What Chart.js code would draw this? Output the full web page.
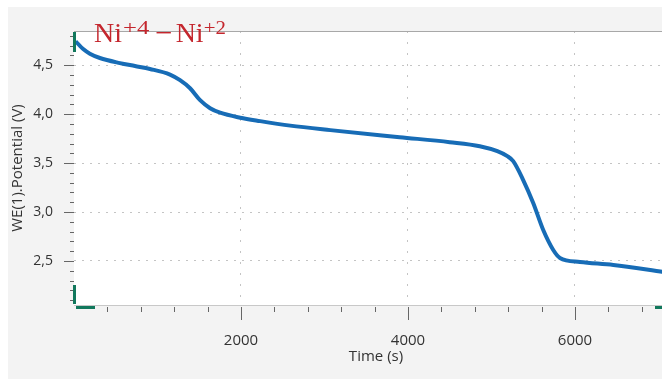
<!DOCTYPE html>
<html>
<head>
<meta charset="utf-8">
<script src="https://cdn.jsdelivr.net/npm/chart.js@4.4.0/dist/chart.umd.min.js"></script>
<style>
    html, body { margin: 0; padding: 0; background: #ffffff; overflow: hidden; }
    #wrap { width: 662px; height: 379px; overflow: hidden; }
</style>
</head>
<body>
<div id="wrap"><canvas id="chart" width="678" height="379"></canvas></div>
<script>
// discharge curve
const timeS = [20, 110, 190, 310, 550, 730, 910, 1150, 1270, 1390, 1510, 1630, 1750, 1990, 2230, 2590, 3070, 3900, 4500, 4860, 5070, 5190, 5260, 5380, 5500, 5620, 5740, 5820, 6060, 6460, 7060];
const potentialV = [4.745, 4.665, 4.618, 4.574, 4.522, 4.492, 4.462, 4.405, 4.347, 4.265, 4.143, 4.061, 4.015, 3.964, 3.929, 3.883, 3.837, 3.765, 3.714, 3.673, 3.622, 3.571, 3.520, 3.327, 3.092, 2.816, 2.612, 2.531, 2.490, 2.459, 2.388];

const xMajorTicks = [2000, 4000, 6000];
const yMajorTicks = [2.5, 3.0, 3.5, 4.0, 4.5];
const xMinorStep = 400;
const yMinorStep = 0.1;

const xTitle = "Time (s)";
const yTitle = "WE(1).Potential (V)";

const plotLeft = 74;
const plotTop = 31;
const plotBottom = 305;
const markerGreen = "#11785c";

const decor = {
    id: "decor",
    beforeDraw(chart) {
        const {ctx, width, height, chartArea} = chart;
        ctx.save();
        ctx.fillStyle = "#ffffff";
        ctx.fillRect(0, 0, width, height);
        ctx.fillStyle = "#f3f3f3";
        ctx.fillRect(8, 7, width - 8, height - 7);
        ctx.fillStyle = "#ffffff";
        ctx.fillRect(chartArea.left, chartArea.top, chartArea.right - chartArea.left, chartArea.bottom - chartArea.top);
        ctx.restore();
    },
    afterDraw(chart) {
        const {ctx, chartArea} = chart;
        const x = chart.scales.x;
        const y = chart.scales.y;
        ctx.save();

        // top frame line
        ctx.strokeStyle = "#a8a8a8";
        ctx.lineWidth = 1;
        ctx.beginPath();
        ctx.moveTo(chartArea.left, chartArea.top + 0.5);
        ctx.lineTo(chartArea.right, chartArea.top + 0.5);
        ctx.stroke();

        // tick marks, minor and major
        ctx.strokeStyle = "#666666";
        ctx.beginPath();
        for (let v = xMinorStep; v < x.max; v += xMinorStep) {
            const px = Math.round(x.getPixelForValue(v)) + 0.5;
            const major = xMajorTicks.includes(v);
            ctx.moveTo(px, chartArea.bottom + 2);
            ctx.lineTo(px, chartArea.bottom + (major ? 15 : 7));
        }
        for (let i = Math.ceil(y.min / yMinorStep); i * yMinorStep < y.max; i++) {
            const v = +(i * yMinorStep).toFixed(2);
            const py = Math.round(y.getPixelForValue(v)) + 0.5;
            const major = yMajorTicks.includes(v);
            ctx.moveTo(chartArea.left, py);
            ctx.lineTo(chartArea.left - (major ? 10 : 4), py);
        }
        ctx.stroke();

        // cursor markers
        ctx.fillStyle = markerGreen;
        ctx.fillRect(chartArea.left - 1, chartArea.top + 1, 3, 20);
        ctx.fillRect(chartArea.left - 1, chartArea.bottom - 20, 3, 19);
        ctx.fillRect(chartArea.left + 2, chartArea.bottom + 1, 19, 3);
        ctx.fillRect(655, chartArea.bottom + 1, 12, 3);

        // annotation
        ctx.fillStyle = "#c4262d";
        ctx.textBaseline = "alphabetic";
        let cx = 94;
        const main = "28px 'Liberation Serif'";
        const sup = "19px 'Liberation Serif'";
        const put = (text, font, base, sx) => {
            ctx.font = font;
            ctx.save();
            ctx.translate(cx, base);
            ctx.scale(sx, 1);
            ctx.fillText(text, 0, 0);
            ctx.restore();
            cx += ctx.measureText(text).width * sx;
        };
        put("Ni", main, 42, 1.0);
        cx += 1;
        put("+4", sup, 34, 1.3);
        cx += 6;
        put("\u2212", main, 42, 1.1);
        cx += 3;
        put("Ni", main, 42, 1.0);
        put("+2", sup, 34, 1.1);

        ctx.restore();
    }
};

new Chart(document.getElementById("chart"), {
    type: "line",
    data: {
        datasets: [{
            data: timeS.map((t, i) => ({x: t, y: potentialV[i]})),
            borderColor: "#176cb6",
            borderWidth: 4,
            pointRadius: 0,
            cubicInterpolationMode: "monotone",
            fill: false
        }]
    },
    options: {
        responsive: false,
        animation: false,
        events: [],
        layout: {padding: {left: 0, top: plotTop, right: 0, bottom: 0}},
        plugins: {legend: {display: false}, tooltip: {enabled: false}},
        scales: {
            x: {
                type: "linear",
                min: 0,
                max: 7234,
                afterFit: (s) => { s.height = 379 - plotBottom; },
                afterBuildTicks: (s) => { s.ticks = xMajorTicks.map(v => ({value: v})); },
                ticks: {
                    padding: 27,
                    color: "#333333",
                    font: {family: "'Open Sans'", size: 15},
                    maxRotation: 0,
                    autoSkip: false,
                    callback: (v) => String(v)
                },
                grid: {color: "#c4c4c4", lineWidth: 1, drawTicks: false},
                border: {display: true, color: "#c8c8c8", dash: [2, 9]},
                title: {
                    display: true,
                    text: xTitle,
                    color: "#333333",
                    font: {family: "'Open Sans'", size: 15},
                    padding: {top: 0, bottom: 13}
                }
            },
            y: {
                type: "linear",
                min: 2.05,
                max: 4.85,
                afterFit: (s) => { s.width = plotLeft; },
                afterBuildTicks: (s) => { s.ticks = yMajorTicks.map(v => ({value: v})); },
                ticks: {
                    padding: 21,
                    color: "#333333",
                    font: {family: "'Open Sans'", size: 14},
                    autoSkip: false,
                    callback: (v) => v.toFixed(1).replace(".", ",")
                },
                grid: {color: "#c4c4c4", lineWidth: 1, drawTicks: false},
                border: {display: false, dash: [2, 6]},
                title: {
                    display: true,
                    text: yTitle,
                    color: "#333333",
                    font: {family: "'Open Sans'", size: 15},
                    padding: {top: 9, bottom: 0}
                }
            }
        }
    },
    plugins: [decor]
});
</script>
</body>
</html>
